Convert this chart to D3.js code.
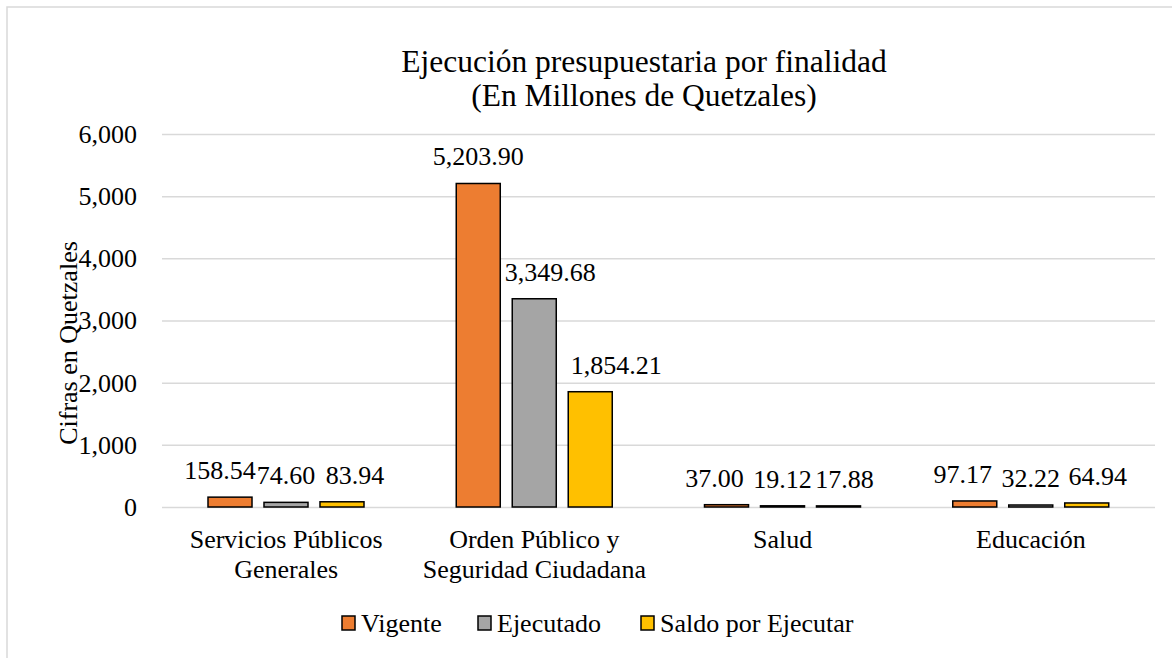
<!DOCTYPE html>
<html>
<head>
<meta charset="utf-8">
<script src="https://cdn.jsdelivr.net/npm/d3@7"></script>
<style>
  body { margin: 0; background: #fff; }
</style>
</head>
<body>
<script>
let categories = [["Servicios Públicos", "Generales"], ["Orden Público y", "Seguridad Ciudadana"], ["Salud"], ["Educación"]];
let series = ["Vigente", "Ejecutado", "Saldo por Ejecutar"];
let vigente = [158.54, 5203.90, 37.00, 97.17];
let ejecutado = [74.60, 3349.68, 19.12, 32.22];
let saldo = [83.94, 1854.21, 17.88, 64.94];
let yTicks = [0, 1000, 2000, 3000, 4000, 5000, 6000];
let colors = ["#ED7D31", "#A5A5A5", "#FFC000"];
// label nudges (px) so neighbouring labels don't collide, as in the source
let labelNudge = [[-10, 0, 13], [0, 16, 26], [-12, 0, 6], [-12, 0, 11]];

let width = 1172, height = 658;
let margin = {top: 134, right: 17, bottom: 151, left: 162};

let values = [vigente, ejecutado, saldo];
let data = categories.map((c, i) => ({
    cat: i,
    vals: series.map((s, j) => ({s: s, j: j, v: values[j][i], i: i}))
}));

let x0 = d3.scaleBand()
    .domain(d3.range(categories.length))
    .range([margin.left, width - margin.right]);

let x1 = d3.scaleBand()
    .domain(d3.range(series.length))
    .range([46, 202])
    .paddingInner(0.214);

let y = d3.scaleLinear()
    .domain([0, 6000])
    .range([height - margin.bottom, margin.top]);

const svg = d3.select("body").append("svg")
    .attr("width", width)
    .attr("height", height)
    .attr("font-family", "'Liberation Serif', 'Times New Roman', serif");

// chart border (cropped at right and bottom)
svg.append("rect")
    .attr("x", 7).attr("y", 7)
    .attr("width", width + 10).attr("height", height + 10)
    .attr("fill", "#fff")
    .attr("stroke", "#d9d9d9")
    .attr("stroke-width", 1.5);

svg.append("text")
    .attr("x", 644).attr("y", 72)
    .attr("text-anchor", "middle")
    .attr("font-size", 31.5)
    .selectAll("tspan")
    .data(["Ejecución presupuestaria por finalidad", "(En Millones de Quetzales)"])
    .join("tspan")
      .attr("x", 644)
      .attr("dy", (d, i) => i ? 34 : 0)
      .text(d => d);

// gridlines
svg.append("g")
    .attr("transform", `translate(${margin.left},0)`)
    .call(d3.axisLeft(y).tickValues(yTicks).tickSize(-(width - margin.left - margin.right)).tickFormat(""))
    .call(g => g.select(".domain").remove())
    .call(g => g.selectAll("line").attr("stroke", "#d9d9d9").attr("stroke-width", 1.5));

// y tick labels
svg.append("g")
    .selectAll("text")
    .data(yTicks)
    .join("text")
      .attr("x", 137)
      .attr("y", d => y(d))
      .attr("dy", "0.34em")
      .attr("text-anchor", "end")
      .attr("font-size", 26)
      .text(d => d3.format(",")(d));

svg.append("text")
    .attr("transform", "translate(77,343) rotate(-90)")
    .attr("text-anchor", "middle")
    .attr("font-size", 26)
    .text("Cifras en Quetzales");

const groups = svg.append("g")
  .selectAll("g")
  .data(data)
  .join("g")
    .attr("transform", d => `translate(${x0(d.cat)},0)`);

groups.selectAll("rect")
  .data(d => d.vals)
  .join("rect")
    .attr("x", d => x1(d.j))
    .attr("y", d => y(d.v))
    .attr("width", x1.bandwidth())
    .attr("height", d => y(0) - y(d.v))
    .attr("fill", d => colors[d.j])
    .attr("stroke", "#000")
    .attr("stroke-width", 1.5);

groups.selectAll("text")
  .data(d => d.vals)
  .join("text")
    .attr("x", d => x1(d.j) + x1.bandwidth() / 2 + labelNudge[d.i][d.j])
    .attr("y", d => y(d.v) - 18)
    .attr("text-anchor", "middle")
    .attr("font-size", 26)
    .text(d => d3.format(",.2f")(d.v));

// category labels
svg.append("g")
  .selectAll("text")
  .data(data)
  .join("text")
    .attr("text-anchor", "middle")
    .attr("font-size", 26)
    .attr("y", 548)
    .selectAll("tspan")
    .data(d => categories[d.cat].map(t => ({t: t, cat: d.cat})))
    .join("tspan")
      .attr("x", d => x0(d.cat) + x0.bandwidth() / 2)
      .attr("dy", (d, i) => i ? 30 : 0)
      .text(d => d.t);

// legend
let legendX = [342, 478, 641];
const lg = svg.append("g")
  .selectAll("g")
  .data(series)
  .join("g")
    .attr("transform", (d, i) => `translate(${legendX[i]},616)`);
lg.append("rect")
    .attr("width", 13).attr("height", 14)
    .attr("fill", (d, i) => colors[i])
    .attr("stroke", "#000")
    .attr("stroke-width", 1.5);
lg.append("text")
    .attr("x", 19).attr("y", 16)
    .attr("font-size", 26)
    .text(d => d);
</script>
</body>
</html>
